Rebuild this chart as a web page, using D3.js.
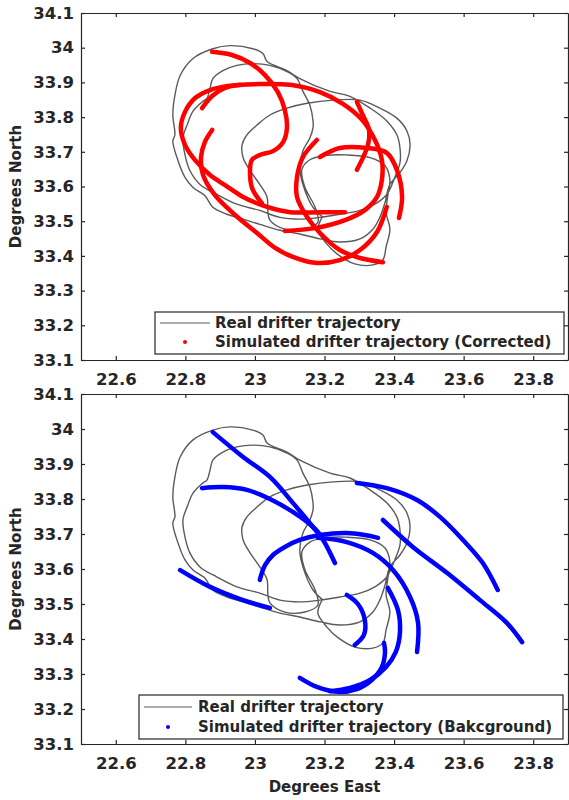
<!DOCTYPE html>
<html>
<head>
<meta charset="utf-8">
<script src="https://cdn.jsdelivr.net/npm/d3@7"></script>
<style>
  html, body { margin: 0; padding: 0; background: #fff; }
  svg text { font-family: "DejaVu Sans", sans-serif; font-weight: bold; fill: #262626; }
</style>
</head>
<body>
<svg id="chart" width="569" height="800"></svg>
<script>
// ---------------- DATA ----------------
const xTicks = [22.6, 22.8, 23.0, 23.2, 23.4, 23.6, 23.8];
const yTicks = [33.1, 33.2, 33.3, 33.4, 33.5, 33.6, 33.7, 33.8, 33.9, 34.0, 34.1];

// Real drifter trajectory [lon, lat]
const realTrack = [
  [23.196,33.511],[23.167,33.540],[23.138,33.606],[23.129,33.654],[23.138,33.703],[23.158,33.740],
  [23.167,33.769],
  [23.167,33.789],[23.158,33.834],[23.138,33.874],[23.121,33.911],[23.092,33.931],[23.043,33.949],
  [22.994,33.954],[22.948,33.949],[22.908,33.934],[22.879,33.911],[22.871,33.883],[22.862,33.854],
  [22.851,33.846],[22.822,33.817],[22.805,33.777],[22.793,33.740],[22.799,33.691],[22.813,33.646],
  [22.842,33.606],[22.891,33.577],[22.948,33.549],[23.014,33.531],[23.072,33.511],[23.129,33.506],
  [23.187,33.511],[23.244,33.520],[23.302,33.531],[23.345,33.549],[23.379,33.577],[23.402,33.626],
  [23.417,33.669],[23.417,33.711],
  [23.408,33.749],[23.379,33.789],[23.331,33.826],[23.273,33.860],[23.216,33.874],[23.129,33.911],
  [23.092,33.934],[23.035,33.960],[23.023,33.983],[22.994,33.997],[22.928,34.006],[22.879,33.997],
  [22.822,33.969],[22.785,33.920],[22.770,33.863],[22.764,33.806],[22.770,33.749],[22.764,33.731],
  [22.779,33.674],[22.799,33.626],[22.822,33.597],[22.856,33.574],[22.879,33.540],[22.920,33.520],
  [22.966,33.506],[23.014,33.491],[23.072,33.474],[23.129,33.463],[23.187,33.449],[23.244,33.440],
  [23.302,33.449],[23.339,33.477],[23.359,33.511],[23.374,33.554],[23.388,33.606],
  [23.417,33.640],[23.437,33.674],[23.446,33.720],[23.437,33.760],[23.408,33.797],[23.359,33.826],
  [23.302,33.849],[23.224,33.849],[23.150,33.840],[23.092,33.826],[23.043,33.806],[23.006,33.777],
  [22.977,33.749],[22.963,33.720],[22.966,33.683],[22.986,33.646],[23.014,33.606],[23.035,33.569],
  [23.037,33.531],[23.043,33.503],[23.086,33.477],[23.144,33.477],[23.181,33.497],[23.173,33.540],
  [23.144,33.597],[23.135,33.649],[23.158,33.677],[23.201,33.689],[23.264,33.691],[23.331,33.683],
  [23.374,33.660],[23.388,33.620],[23.382,33.574],[23.377,33.526],[23.388,33.477],[23.377,33.426],
  [23.368,33.389],[23.339,33.374],[23.287,33.377],[23.236,33.406],[23.207,33.434],[23.181,33.474],
  [23.193,33.511]
];

// Simulated trajectories (Corrected)
const corrected1 = [[22.877,33.988],[22.934,33.979],[22.986,33.956],[23.029,33.921],[23.066,33.872],[23.086,33.820],[23.092,33.769],[23.081,33.728],[23.052,33.702],[23.014,33.691],[22.991,33.676],[22.986,33.633],[22.994,33.590],[23.020,33.552]];
const corrected2 = [[23.259,33.526],[23.187,33.526],[23.101,33.526],[23.035,33.541],[22.966,33.570],[22.914,33.604],[22.871,33.633],[22.828,33.676],[22.799,33.720],[22.787,33.769],[22.799,33.815],[22.828,33.855],[22.871,33.878],[22.922,33.890],[23.000,33.895],[23.101,33.893],[23.187,33.872],[23.253,33.838],[23.308,33.792],[23.345,33.734],[23.365,33.676],[23.365,33.619],[23.351,33.570],[23.316,33.532],[23.259,33.503],[23.173,33.480],[23.086,33.472]];
const corrected3 = [[22.877,33.763],[22.856,33.728],[22.845,33.685],[22.851,33.633],[22.885,33.575],[22.943,33.518],[23.006,33.466],[23.058,33.423],[23.109,33.397],[23.173,33.380],[23.244,33.388],[23.302,33.417],[23.351,33.469],[23.379,33.541]];
const corrected4 = [[23.187,33.685],[23.244,33.711],[23.322,33.711],[23.379,33.697],[23.408,33.648],[23.423,33.570],[23.414,33.509]];
const corrected5 = [[23.178,33.734],[23.138,33.685],[23.121,33.627],[23.121,33.570],[23.150,33.512],[23.187,33.466],[23.244,33.417],[23.302,33.394],[23.368,33.382]];
const corrected6 = [[23.293,33.844],[23.310,33.806],[23.328,33.763],[23.325,33.720],[23.310,33.682],[23.293,33.648]];
const corrected7 = [[22.848,33.826],[22.877,33.861],[22.914,33.884],[22.957,33.893]];

// Simulated trajectories (Background)
const background1 = [[22.879,33.991],[22.966,33.920],[23.043,33.863],[23.109,33.789],[23.167,33.720],[23.196,33.683],[23.230,33.617]];
const background2 = [[22.848,33.831],[22.908,33.834],[22.977,33.826],[23.043,33.800],[23.109,33.763],[23.167,33.720],[23.193,33.691]];
const background3 = [[23.014,33.569],[23.029,33.611],[23.052,33.640],[23.086,33.663],[23.129,33.683],[23.187,33.697],[23.264,33.703],[23.316,33.697],[23.354,33.689]];
const background4 = [[23.181,33.689],[23.264,33.677],[23.339,33.646],[23.397,33.597],[23.446,33.520],[23.469,33.446],[23.466,33.363]];
const background5 = [[23.293,33.846],[23.379,33.831],[23.466,33.797],[23.532,33.749],[23.598,33.683],[23.655,33.617],[23.698,33.540]];
const background6 = [[23.368,33.740],[23.454,33.663],[23.552,33.589],[23.647,33.511],[23.724,33.446],[23.768,33.391]];
const background7 = [[22.785,33.597],[22.871,33.549],[22.966,33.511],[23.043,33.489]];
const background8 = [[23.264,33.526],[23.296,33.500],[23.316,33.454],[23.313,33.411],[23.287,33.383]];
const background9 = [[23.382,33.546],[23.411,33.483],[23.417,33.420],[23.405,33.363],[23.377,33.320],[23.331,33.283],[23.273,33.260],[23.216,33.251]];
const background10 = [[23.129,33.289],[23.178,33.263],[23.236,33.249],[23.293,33.257],[23.336,33.283],[23.365,33.320],[23.374,33.363],[23.371,33.389]];

const correctedSet = [corrected1, corrected2, corrected3, corrected4, corrected5, corrected6, corrected7];
const backgroundSet = [background1, background2, background3, background4, background5, background6, background7, background8, background9, background10];

const legendTop = ["Real drifter trajectory", "Simulated drifter trajectory (Corrected)"];
const legendBottom = ["Real drifter trajectory", "Simulated drifter trajectory (Bakcground)"];
const xLabel = "Degrees East";
const yLabel = "Degrees North";

// ---------------- DRAW ----------------
const svg = d3.select("#chart");
const X0 = 81, X1 = 568;
const x = d3.scaleLinear().domain([22.5, 23.9]).range([X0, X1]);

const panels = [
  { top: 13, bottom: 360, sims: correctedSet, color: "#ff0000", legend: legendTop,
    box: [155, 312, 564, 354], lineX: [160, 210], dotX: 185, textX: 215, rows: [323, 342] },
  { top: 394, bottom: 744, sims: backgroundSet, color: "#0000ff", legend: legendBottom,
    box: [139, 695, 563, 739], lineX: [144, 192], dotX: 168, textX: 198, rows: [707, 727] }
];

const fmt = d => String(+d.toFixed(1));
const axisColor = "#262626";

panels.forEach((p, i) => {
  const y = d3.scaleLinear().domain([33.1, 34.1]).range([p.bottom, p.top]);
  const g = svg.append("g");

  const clipId = "clip" + i;
  svg.append("clipPath").attr("id", clipId).append("rect")
    .attr("x", X0).attr("y", p.top).attr("width", X1 - X0).attr("height", p.bottom - p.top);

  const line = d3.line().x(d => x(d[0])).y(d => y(d[1])).curve(d3.curveCatmullRom.alpha(0.5));
  const plot = g.append("g").attr("clip-path", `url(#${clipId})`);

  plot.append("path").datum(realTrack)
    .attr("d", line).attr("fill", "none").attr("stroke", "#5a5a5a")
    .attr("stroke-width", 1.4).attr("stroke-linejoin", "round");

  plot.selectAll("path.sim").data(p.sims).join("path").attr("class", "sim")
    .attr("d", line).attr("fill", "none").attr("stroke", p.color)
    .attr("stroke-width", 4.5).attr("stroke-linecap", "round").attr("stroke-linejoin", "round");

  // Axes
  const axL = g.append("g").attr("transform", `translate(${X0},0)`)
    .call(d3.axisLeft(y).tickValues(yTicks).tickFormat(fmt).tickSize(-4).tickPadding(7).tickSizeOuter(0));
  const axB = g.append("g").attr("transform", `translate(0,${p.bottom})`)
    .call(d3.axisBottom(x).tickValues(xTicks).tickFormat(fmt).tickSize(-4).tickPadding(13).tickSizeOuter(0));
  const axT = g.append("g").attr("transform", `translate(0,${p.top})`)
    .call(d3.axisTop(x).tickValues(xTicks).tickFormat("").tickSize(-4).tickSizeOuter(0));
  const axR = g.append("g").attr("transform", `translate(${X1},0)`)
    .call(d3.axisRight(y).tickValues(yTicks).tickFormat("").tickSize(-4).tickSizeOuter(0));

  [axL, axB, axT, axR].forEach(a => {
    a.select(".domain").attr("stroke", axisColor).attr("stroke-width", 1.2);
    a.selectAll(".tick line").attr("stroke", axisColor).attr("stroke-width", 1.2);
    a.selectAll(".tick text").attr("fill", axisColor)
      .style("font-family", "DejaVu Sans").style("font-weight", "bold").style("font-size", "16.5px");
  });

  // Legend
  const [bx0, by0, bx1, by1] = p.box;
  g.append("rect").attr("x", bx0).attr("y", by0).attr("width", bx1 - bx0).attr("height", by1 - by0)
    .attr("fill", "#fff").attr("stroke", axisColor).attr("stroke-width", 1.2);
  g.append("line").attr("x1", p.lineX[0]).attr("x2", p.lineX[1])
    .attr("y1", p.rows[0]).attr("y2", p.rows[0]).attr("stroke", "#5a5a5a").attr("stroke-width", 1.2);
  g.append("circle").attr("cx", p.dotX).attr("cy", p.rows[1]).attr("r", 2).attr("fill", p.color);
  g.selectAll("text.leg").data(p.legend).join("text").attr("class", "leg")
    .attr("x", p.textX).attr("y", (d, k) => p.rows[k]).attr("dy", "0.35em")
    .style("font-size", "15px").text(d => d);

  // Y label
  g.append("text").attr("transform", `translate(21,${(p.top + p.bottom) / 2}) rotate(-90)`)
    .attr("text-anchor", "middle").style("font-size", "15px").text(yLabel);
});

svg.append("text").attr("x", (X0 + X1) / 2).attr("y", 792).attr("text-anchor", "middle")
  .style("font-size", "15px").text(xLabel);
</script>
</body>
</html>
